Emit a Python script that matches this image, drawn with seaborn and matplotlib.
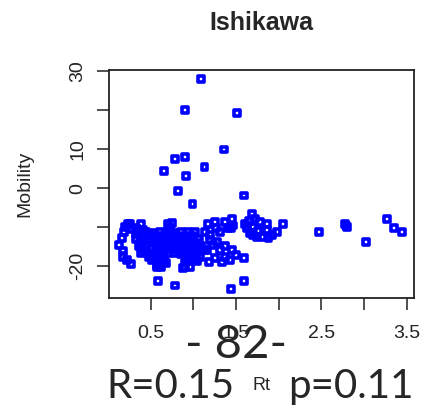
import matplotlib
matplotlib.use("Agg")
import matplotlib.pyplot as plt
import seaborn as sns
import pandas as pd

# values (Rt vs Mobility)
rt_high = [1.09, 0.90, 1.51, 1.36, 0.78, 0.90, 1.13, 0.66, 0.91, 0.82, 1.59, 0.99]
mob_high = [27.9, 20.1, 19.2, 9.9, 7.4, 7.9, 5.3, 4.3, 3.2, -0.8, -1.9, -4.0]

rt_far = [3.27, 3.35, 3.45, 3.02, 2.47, 2.78, 2.80, 2.79]
mob_far = [-8.0, -10.2, -11.2, -13.8, -11.2, -9.1, -10.0, -9.6]

rt_low = [0.59, 0.78, 1.44, 1.59, 1.59, 0.57, 0.88]
mob_low = [-23.8, -25.0, -26.0, -23.8, -17.9, -19.7, -20.5]

rt_mid = [1.69, 1.60, 1.63, 1.66, 1.74, 1.86, 1.86, 1.92, 1.98, 2.05, 1.81, 1.70,
          1.78, 1.72, 1.65, 1.76, 1.70, 1.88]
mob_mid = [-6.7, -9.1, -10.3, -11.6, -12.5, -9.1, -10.8, -12.1, -11.2, -9.1, -12.5, -9.9,
           -8.6, -7.8, -8.5, -11.0, -12.0, -12.7]

rt_grp = [1.45, 1.41, 1.27, 1.14, 1.23, 1.31, 1.37, 1.06, 1.12, 0.92, 1.20, 1.17,
          1.25, 1.31, 1.37, 1.19, 1.28, 1.37, 1.45, 1.50, 1.43, 1.34, 1.25, 1.46,
          1.44, 1.08, 1.02, 0.98, 1.16, 1.18]
mob_grp = [-8.0, -10.3, -10.3, -11.2, -14.6, -15.9, -17.6, -15.5, -15.9, -17.6, -12.0, -9.2,
           -8.7, -11.3, -8.7, -13.3, -13.8, -14.9, -15.9, -17.2, -18.5, -19.0, -18.0, -9.6,
           -10.2, -17.6, -18.5, -16.7, -15.9, -18.9]

rt_main = [0.13, 0.16, 0.19, 0.17, 0.22, 0.27, 0.26, 0.33, 0.39, 0.20, 0.41, 0.33,
           0.70, 0.75, 0.73, 0.35, 0.44, 0.53, 0.61, 0.69, 0.77, 0.86, 0.94, 1.02,
           0.33, 0.41, 0.49, 0.57, 0.66, 0.74, 0.82, 0.90, 0.98, 1.07,
           0.36, 0.44, 0.52, 0.60, 0.68, 0.76, 0.85, 0.93, 1.01, 1.09,
           0.38, 0.46, 0.54, 0.62, 0.70, 0.78, 0.86, 0.94, 1.03,
           0.52, 0.60, 0.66, 0.90, 0.97, 1.04, 0.57, 0.62, 0.90, 0.96,
           0.23, 0.28, 0.18]
mob_main = [-14.6, -12.8, -11.3, -17.6, -18.5, -19.5, -9.2, -10.3, -9.2, -10.0, -10.8, -11.8,
            -9.2, -9.0, -10.1, -11.3, -11.2, -11.4, -11.3, -11.2, -11.4, -11.3, -11.2, -11.3,
            -13.1, -13.0, -13.2, -13.1, -13.0, -13.1, -13.2, -13.1, -13.0, -13.1,
            -14.9, -14.8, -15.0, -14.9, -14.8, -14.9, -15.0, -14.9, -14.8, -14.9,
            -16.7, -16.6, -16.8, -16.7, -16.6, -16.7, -16.8, -16.7, -16.6,
            -18.5, -18.4, -18.6, -18.5, -18.4, -18.6, -20.2, -20.3, -20.2, -20.3,
            -9.1, -10.4, -16.0]

# points in between, where the cluster is densest
rt_dense = [0.40, 0.48, 0.57, 0.65, 0.73, 0.81, 0.90, 0.98,
            0.37, 0.45, 0.56, 0.64, 0.72, 0.80, 0.89, 0.97, 1.05,
            0.42, 0.50, 0.58, 0.66, 0.74, 0.82, 0.91, 0.99,
            0.48, 0.56, 0.64, 0.93, 1.00, 0.60, 0.68, 0.81, 0.88]
mob_dense = [-12.2, -12.1, -12.3, -12.2, -12.1, -12.2, -12.3, -12.2,
             -14.0, -14.1, -13.9, -14.0, -14.1, -14.0, -13.9, -14.0, -14.1,
             -15.8, -15.7, -15.9, -15.8, -15.7, -15.8, -15.9, -15.8,
             -17.6, -17.5, -17.7, -17.6, -17.5, -19.4, -19.3, -14.6, -16.2]

df = pd.DataFrame({
    "Rt": rt_high + rt_far + rt_low + rt_mid + rt_grp + rt_main + rt_dense,
    "Mobility": mob_high + mob_far + mob_low + mob_mid + mob_grp + mob_main + mob_dense,
})

x_ticks = [0.5, 1.0, 1.5, 2.0, 2.5, 3.0, 3.5]
x_labels = ["0.5", "", "1.5", "", "2.5", "", "3.5"]
y_ticks = [-20, -10, 0, 10, 20, 30]
y_labels = ["-20", "", "0", "10", "", "30"]

sns.set_style("ticks")
plt.rcParams["font.family"] = ["Liberation Sans", "DejaVu Sans"]

W, H = 421, 407
fig = plt.figure(figsize=(W / 100, H / 100), dpi=100)
ax = fig.add_axes([109 / W, 1 - 298 / H, (414 - 109) / W, (298 - 70) / H])

sns.scatterplot(data=df, x="Rt", y="Mobility", ax=ax, marker="s", s=18,
                fc="none", ec="#0000FF", linewidth=2.6, legend=False)

ax.set_xlim(0.011, 3.586)
ax.set_ylim(-28.2, 30.3)
ax.set_xticks(x_ticks)
ax.set_xticklabels(x_labels)
ax.set_yticks(y_ticks)
ax.set_yticklabels(y_labels, rotation=90, va="center")
ax.tick_params(axis="both", length=8.5, width=1.1, color="#222222",
               labelsize=14, labelcolor="#222222")
ax.tick_params(axis="x", pad=11)
ax.tick_params(axis="y", pad=8)
for sp in ax.spines.values():
    sp.set_visible(True)
    sp.set_linewidth(1.3)
    sp.set_color("#222222")

ax.set_title("Ishikawa", fontsize=18, fontweight="bold", pad=29)
ax.set_xlabel("Rt", fontsize=13, labelpad=25)
ax.set_ylabel("Mobility", fontsize=14, labelpad=26)

big = ["Lato", "DejaVu Sans"]
fig.text(236 / W, 1 - 358 / H, "- 82-", fontsize=34, family=big,
         ha="center", va="baseline")
fig.text(106 / W, 1 - 398 / H, "R=0.15", fontsize=29, family=big,
         ha="left", va="baseline")
fig.text(288 / W, 1 - 398 / H, "p=0.11", fontsize=29, family=big,
         ha="left", va="baseline")

fig.savefig("out.png", dpi=100)
